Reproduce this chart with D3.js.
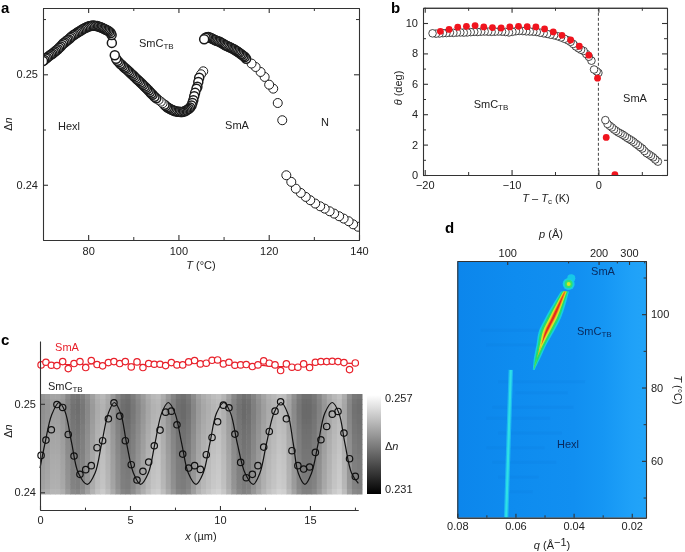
<!DOCTYPE html>
<html>
<head>
<meta charset="utf-8">
<style type="text/css">
  html, body { margin: 0; padding: 0; background: #fff; }
  svg { display: block; filter: blur(0.3px); }
  text { font-family: "Liberation Sans", Arial, sans-serif; font-size: 11px; fill: #222; }
  .letter { font-size: 15px; font-weight: bold; fill: #000; }
</style>
</head>
<body>
<script src="https://d3js.org/d3.v7.min.js"></script>
<script type="text/javascript">
  // panel a: birefringence vs temperature, one pair of arrays per phase
  const hexlT = [70.0,70.3,70.6,70.9,71.2,71.5,71.8,72.1,72.4,72.7,73.0,73.3,73.6,73.9,74.2,74.5,74.8,75.1,75.4,75.7,76.0,76.3,76.6,76.9,77.2,77.5,77.8,78.1,78.4,78.7,79.0,79.3,79.6,79.9,80.2,80.5,80.8,81.1,81.4,81.7,82.0,82.3,82.6,82.9,83.2,83.5,83.8,84.1,84.4,84.7,85.0,85.2,85.25];
  const hexlDn = [.25120,.25130,.25142,.25150,.25162,.25170,.25180,.25186,.25198,.25206,.25218,.25226,.25240,.25252,.25266,.25278,.25288,.25298,.25308,.25316,.25328,.25340,.25350,.25358,.25366,.25374,.25382,.25390,.25396,.25406,.25412,.25418,.25424,.25430,.25434,.25437,.25440,.25441,.25440,.25438,.25436,.25432,.25428,.25424,.25418,.25412,.25406,.25400,.25394,.25386,.25374,.25355,.25284];
  const smctbT = [85.9,86.2,86.5,86.8,87.1,87.4,87.7,88.0,88.3,88.6,88.9,89.2,89.5,89.8,90.1,90.4,90.7,91.0,91.3,91.6,91.9,92.2,92.5,92.8,93.1,93.4,93.7,94.0,94.3,94.7,95.1,95.6,96.1,96.5,96.9,97.2,97.5,97.8,98.1,98.4,98.7,99.0,99.3,99.6,99.9,100.2,100.5,100.8,101.1,101.4,101.7,102.0,102.3,102.6,102.9,103.1,103.3,103.5,103.7,104.0,104.2,104.4,104.6,105.0,105.5];
  const smctbDn = [.25172,.25140,.25122,.25110,.25096,.25086,.25074,.25062,.25052,.25042,.25030,.25018,.25006,.24996,.24984,.24972,.24960,.24948,.24938,.24926,.24914,.24902,.24890,.24878,.24866,.24854,.24840,.24826,.24814,.24796,.24782,.24768,.24752,.24738,.24724,.24712,.24702,.24694,.24688,.24680,.24676,.24670,.24666,.24664,.24660,.24660,.24658,.24658,.24662,.24666,.24672,.24680,.24688,.24700,.24718,.24740,.24766,.24802,.24832,.24870,.24888,.24930,.24968,.25000,.25027];
  const smaT = [105.7,106.0,106.3,106.6,106.9,107.2,107.5,107.8,108.1,108.4,108.7,109.0,109.3,109.6,109.9,110.2,110.5,110.8,111.1,111.4,111.7,112.0,112.3,112.6,112.9,113.2,113.5,113.8,114.1,114.4,114.7,115.0,116.2,117.1,118.2,119.1,120.1,121.0,122.0,123.0];
  const smaDn = [.25317,.25330,.25336,.25338,.25334,.25328,.25322,.25316,.25310,.25304,.25300,.25296,.25290,.25282,.25276,.25268,.25260,.25256,.25250,.25244,.25238,.25232,.25226,.25218,.25210,.25202,.25194,.25184,.25176,.25166,.25157,.25140,.25097,.25066,.25021,.24976,.24906,.24870,.24740,.24584];
  const nemT = [123.9,125.0,126.0,127.1,128.2,129.2,130.3,131.4,132.4,133.5,134.5,135.6,136.6,137.7,138.7,139.8];
  const nemDn = [.24086,.24026,.23965,.23926,.23890,.23860,.23830,.23805,.23784,.23760,.23739,.23715,.23694,.23670,.23642,.23620];

  // panel b: tilt angle, open circles and red points
  const tiltX = [-19.1,-18.7,-18.3,-17.9,-17.5,-17.1,-16.7,-16.3,-15.9,-15.5,-15.1,-14.7,-14.3,-13.9,-13.5,-13.1,-12.7,-12.3,-11.9,-11.5,-11.1,-10.7,-10.3,-9.9,-9.5,-9.1,-8.7,-8.3,-7.9,-7.5,-7.1,-6.7,-6.3,-5.9,-5.5,-5.1,-4.7,-4.3,-3.9,-3.5,-3.2,-2.9,-2.6,-2.3,-2.0,-1.7,-1.4,-1.1,-0.8,-0.5,-0.2,0.0,0.8,1.05,1.3,1.55,1.8,2.05,2.3,2.55,2.8,3.05,3.3,3.55,3.8,4.05,4.3,4.55,4.8,5.05,5.3,5.55,5.8,6.05,6.3,6.55,6.85];
  const tiltY = [9.32,9.30,9.31,9.33,9.34,9.36,9.35,9.37,9.38,9.37,9.38,9.40,9.42,9.41,9.43,9.44,9.43,9.42,9.43,9.44,9.43,9.41,9.38,9.42,9.46,9.48,9.47,9.45,9.44,9.43,9.41,9.36,9.32,9.28,9.23,9.19,9.13,9.05,8.96,8.86,8.76,8.62,8.46,8.34,8.24,8.16,7.96,7.78,7.52,6.94,6.82,6.72,3.61,3.36,3.24,3.13,3.00,2.90,2.80,2.73,2.65,2.55,2.45,2.36,2.28,2.18,2.06,1.96,1.84,1.74,1.58,1.44,1.36,1.26,1.16,1.02,0.88];
  const redX = [-18.2,-17.2,-16.2,-15.2,-14.2,-13.2,-12.2,-11.2,-10.2,-9.2,-8.2,-7.2,-6.2,-5.2,-4.2,-3.2,-2.2,-1.1,-0.1,0.9,1.9];
  const redY = [9.45,9.58,9.72,9.78,9.83,9.74,9.70,9.67,9.74,9.78,9.76,9.74,9.61,9.41,9.19,8.88,8.47,7.88,6.37,2.47,0.02];

  // panel c: line scans and the grey map behind them
  const scanX = [.06,.33,.63,.94,1.26,1.57,1.89,2.22,2.54,2.85,3.17,3.48,3.80,4.11,4.43,4.74,5.07,5.39,5.72,6.04,6.35,6.67,6.98,7.30,7.61,7.93,8.26,8.59,8.91,9.24,9.56,9.87,10.19,10.50,10.83,11.15,11.46,11.80,12.11,12.43,12.74,13.06,13.37,13.69,14.00,14.33,14.65,14.98,15.30,15.61,15.93,16.24,16.56,16.89,17.20,17.52];
  const smaScan = [.2544,.2547,.25436,.25432,.25477,.25398,.25455,.25477,.2541,.25489,.25444,.25429,.25466,.25477,.25455,.25477,.25417,.25474,.2541,.25455,.25447,.25447,.25432,.25466,.2544,.2544,.25474,.25489,.25451,.25459,.25492,.25496,.25451,.2547,.25436,.2544,.25444,.25421,.2544,.25485,.25459,.2544,.25376,.25451,.25414,.25414,.25451,.2541,.2547,.25477,.25477,.25481,.25477,.25466,.25387,.25462];
  const smctbScan = [.24417,.2459,.24707,.24992,.24959,.24654,.2441,.24203,.24256,.24301,.24504,.24583,.24831,.25011,.24861,.24583,.24312,.24139,.24237,.24342,.24526,.24703,.24906,.24917,.24763,.24432,.24274,.24301,.24259,.24425,.2462,.24797,.24985,.24955,.24658,.24338,.24165,.24203,.24301,.24511,.24688,.24917,.25023,.24831,.2447,.24301,.24263,.24286,.24451,.24594,.24744,.24883,.24914,.24669,.2438,.2418];
  const smaFitX = [0,2,4,6,8,10,12,13.3,15,17,17.7];
  const smaFitDn = [.25445,.25445,.25455,.25445,.2545,.2547,.2544,.2542,.2544,.2546,.2545];
  const fitX = [0,.28,.65,1.06,1.39,1.76,2.13,2.63,3.06,3.43,3.80,4.13,4.48,4.81,5.19,5.59,6.02,6.39,6.76,7.13,7.50,7.87,8.24,8.67,9.07,9.44,9.81,10.22,10.59,10.96,11.39,11.85,12.22,12.59,13.0,13.39,13.76,14.07,14.35,14.72,15.09,15.46,15.83,16.24,16.61,16.94,17.31,17.69];
  const fitDn = [.24274,.24556,.24876,.25015,.24914,.24556,.24218,.2409,.24218,.24556,.24895,.25015,.24895,.24556,.24218,.2409,.24218,.24556,.24895,.25015,.24895,.24556,.24218,.2409,.24218,.24556,.24895,.25015,.24895,.24556,.24218,.2409,.24218,.24556,.24895,.25015,.24895,.24556,.24218,.2409,.24218,.24556,.24895,.25015,.24895,.24556,.24218,.241];
  const heatCols = [.2467,.2473,.2481,.2481,.2473,.2453,.2436,.2432,.2441,.2459,.2477,.2494,.2502,.2489,.2469,.2449,.2432,.2428,.2441,.2457,.2473,.2489,.2502,.2506,.2489,.2469,.2449,.2432,.2428,.2436,.2457,.2477,.2490,.2498,.2506,.2510,.2498,.2477,.2453,.2436,.2428,.2432,.2449,.2465,.2481,.2494,.2502,.2510,.2506,.2485,.2461,.2440,.2428,.2428,.2436,.2453,.2473,.2489,.2502,.2510,.2489,.2457,.2436,.2432];
  const heatRows = [-.0004,-.0008,-.0010,-.0010,-.0009,-.0008,-.0006,-.0005,-.0003,-.0002,-.0001,0,.0002,.0003,.0004,.0005,.0006,.0007,.0008,.0014];

  // panel d: SAXS map, background level and the two reflections
  const bgQ = [.08,.06,.04,.03,.02,.0151];
  const bgColor = ["#0c86ec","#0e8cef","#118ff1","#1596f4","#1fa1f8","#22a4f8"];
  const faintT = [82,79,75,72,68,64,60,56,52,96,92];
  const faintQ0 = [.066,.06,.068,.07,.066,.07,.068,.066,.062,.072,.07];
  const faintQ1 = [.036,.042,.04,.048,.044,.05,.046,.052,.054,.052,.05];
  const hexlLineQ = [.0632,.0616];
  const hexlLineT = [44.5,84.8];
  const streakT = [84.8,88.0,91.6,95.3,98.9,102.5,106.2];
  const streakQ = [.05371,.05257,.05109,.04937,.04709,.04503,.04297];
  const streakColors = ["#15cfe0","#25dc6a","#d8e22a","#f08a1e","#e52a1c"];
  const streakWidths = [
    [.0003,.0011,.0017,.0026,.0027,.0022,.0014],
    [.0000,.0006,.0012,.0020,.0021,.0016,.0010],
    [.0000,.0000,.0005,.0012,.0013,.0010,.0006],
    [.0000,.0000,.0000,.0006,.0007,.0006,.0003],
    [.0000,.0000,.0000,.0003,.0004,.0003,.0000]
  ];
  const blobQ = [.0408,.0417,.0417,.0417];
  const blobT = [109.8,108.2,108.2,108.2];
  const blobR = [4,6,4,2];
  const blobColors = ["#18c8e8","#18cfe0","#30e070","#d8e22a"];

  const svg = d3.select('body').append('svg')
      .attr('width', 685)
      .attr('height', 552);

  const defs = svg.append('defs');
  defs.append('filter').attr('id', 'soft')
      .append('feGaussianBlur').attr('stdDeviation', 0.7);
  defs.append('filter').attr('id', 'softer')
      .append('feGaussianBlur').attr('stdDeviation', 0.35);

  function clip(id, x, y, w, h) {
    defs.append('clipPath').attr('id', id).append('rect')
        .attr('x', x).attr('y', y).attr('width', w).attr('height', h);
  }

  // text made of [string, style] runs, style is i (italic) or s (subscript)
  function label(x, y, runs, opts) {
    opts = opts || {};
    const t = svg.append('text')
        .attr('x', x).attr('y', y)
        .attr('text-anchor', opts.anchor || 'middle')
        .attr('dominant-baseline', 'middle');
    if (opts.rotate) t.attr('transform', 'rotate(' + opts.rotate + ',' + x + ',' + y + ')');
    if (opts.fill) t.style('fill', opts.fill);
    runs.forEach(function(r) {
      const s = t.append('tspan').text(r[0]);
      if (opts.fill) s.style('fill', opts.fill);
      if (r[1] === 'i') s.style('font-style', 'italic');
      if (r[1] === 's') s.style('font-size', '8px').attr('dy', 3);
      if (r[1] === 'u') s.attr('dy', -3);
      if (r[2]) s.attr('dy', r[2]);
    });
    return t;
  }

  // inward ticks: long on the major values, short on the minor ones
  function axis(maker, scale, translate, major, minor, labels, len, pad) {
    if (minor) {
      svg.append('g').attr('transform', 'translate(' + translate + ')')
          .call(maker(scale).tickValues(minor).tickSize(-(len || 5) * 0.6).tickSizeOuter(0).tickFormat(''))
          .selectAll('.domain, line').attr('stroke', '#333');
    }
    const g = svg.append('g').attr('transform', 'translate(' + translate + ')')
        .call(maker(scale).tickValues(major).tickSize(-(len || 5)).tickSizeOuter(0).tickPadding(pad || 6)
            .tickFormat(function(d, i) { return labels ? labels[i] : ''; }));
    g.attr('font-family', null).attr('font-size', null);
    g.selectAll('.domain, line').attr('stroke', '#333').attr('stroke-width', 1.1);
    return g;
  }

  function openCircles(g, xs, ys, xScale, yScale, r, sw, denseGap, denseSw) {
    const pts = xs.map(function(d, i) {
      const gap = Math.min(i > 0 ? d - xs[i - 1] : 99, i < xs.length - 1 ? xs[i + 1] - d : 99);
      return [d, ys[i], gap < denseGap ? denseSw : sw];
    }).sort(function(p, q) { return q[0] - p[0]; }); // cooling run, low T ends up on top
    g.selectAll(null).data(pts).enter().append('circle')
        .attr('cx', function(d) { return xScale(d[0]); })
        .attr('cy', function(d) { return yScale(d[1]); })
        .attr('r', r)
        .attr('fill', 'white')
        .attr('stroke', '#1a1a1a')
        .attr('stroke-width', function(d) { return d[2]; });
  }

  // ---- a ----
  const xA = d3.scaleLinear().domain([70, 140]).range([43, 359]);
  const yA = d3.scaleLinear().domain([.235, .256]).range([240, 8]);
  clip('clipA', 43, 8, 316, 232);
  const plotA = svg.append('g').attr('clip-path', 'url(#clipA)');
  openCircles(plotA, nemT, nemDn, xA, yA, 4.5, 1, 0.4, 1.5);
  openCircles(plotA, smaT, smaDn, xA, yA, 4.5, 1, 0.4, 1.5);
  openCircles(plotA, smctbT, smctbDn, xA, yA, 4.5, 1, 0.4, 1.5);
  openCircles(plotA, hexlT, hexlDn, xA, yA, 4.5, 1, 0.4, 1.5);
  axis(d3.axisBottom, xA, '0,240', [80, 100, 120, 140], [70, 90, 110, 130], ['80', '100', '120', '140'], 5, 7);
  axis(d3.axisTop, xA, '0,8', [80, 100, 120], [70, 90, 110, 130], null);
  axis(d3.axisLeft, yA, '43,0', [.25, .24], [.255, .245], ['0.25', '0.24'], 5, 5);
  axis(d3.axisRight, yA, '359,0', [.25, .24], [.255, .245], null);
  label(69, 127, [['Hexl']]);
  label(139, 44, [['SmC'], ['TB', 's']], { anchor: 'start' });
  label(237, 126, [['SmA']]);
  label(325, 123, [['N']]);
  label(201, 266, [['T', 'i'], [' (°C)']]);
  label(9, 124, [['Δ'], ['n', 'i']], { rotate: -90 });
  label(1, 9, [['a']], { anchor: 'start' }).attr('class', 'letter');

  // ---- b ----
  const xB = d3.scaleLinear().domain([-20.2, 7.9]).range([423, 667]);
  const yB = d3.scaleLinear().domain([0, 11]).range([175, 7.8]);
  clip('clipB', 423, 7.8, 244, 167.2);
  const plotB = svg.append('g').attr('clip-path', 'url(#clipB)');
  plotB.append('line')
      .attr('x1', xB(0)).attr('x2', xB(0))
      .attr('y1', yB(11)).attr('y2', yB(0))
      .attr('stroke', '#444').attr('stroke-width', 1).attr('stroke-dasharray', '3,2');
  openCircles(plotB, tiltX, tiltY, xB, yB, 3.8, 0.8, 0, 0.8);
  plotB.selectAll(null).data(redX).enter().append('circle')
      .attr('cx', function(d) { return xB(d); })
      .attr('cy', function(d, i) { return yB(redY[i]); })
      .attr('r', 3.4)
      .attr('fill', '#f0141e');
  axis(d3.axisBottom, xB, '0,175', [-20, -10, 0], [-15, -5, 5], ['−20', '−10', '0'], 5, 6);
  axis(d3.axisTop, xB, '0,7.8', [-20, -10, 0], [-15, -5, 5], null);
  axis(d3.axisLeft, yB, '423,0', [0, 2, 4, 6, 8, 10], [1, 3, 5, 7, 9], ['0', '2', '4', '6', '8', '10'], 5, 5);
  axis(d3.axisRight, yB, '667,0', [0, 2, 4, 6, 8, 10], [1, 3, 5, 7, 9], null);
  label(491, 105, [['SmC'], ['TB', 's']]);
  label(635, 99, [['SmA']]);
  label(546, 199, [['T', 'i'], [' – '], ['T', 'i'], ['c', 's'], [' (K)', null, -3]]);
  label(399, 88, [['θ', 'i'], [' (deg)']], { rotate: -90 });
  label(391, 9, [['b']], { anchor: 'start' }).attr('class', 'letter');

  // ---- c ----
  const xC = d3.scaleLinear().domain([0, 17.67]).range([40, 358]);
  const yC = d3.scaleLinear().domain([.238, .2571]).range([510, 341]);
  const grey = d3.scaleLinear().domain([.231, .257]).range(['#000', '#fff']);
  const heatX = d3.scaleBand().domain(d3.range(heatCols.length)).range([40, 362]);
  const heatY = d3.scaleBand().domain(d3.range(heatRows.length)).range([394, 494]);
  const heat = svg.append('g').attr('filter', 'url(#softer)');
  heatCols.forEach(function(v, i) {
    heat.selectAll(null).data(heatRows).enter().append('rect')
        .attr('x', heatX(i))
        .attr('y', function(d, j) { return heatY(j); })
        .attr('width', heatX.bandwidth() + 0.5)
        .attr('height', heatY.bandwidth() + 0.5)
        .attr('fill', function(d) { return grey(v + d); });
  });
  const smooth = d3.line().curve(d3.curveCatmullRom);
  svg.append('path')
      .attr('d', smooth(fitX.map(function(d, i) { return [xC(d), yC(fitDn[i])]; })))
      .attr('fill', 'none').attr('stroke', '#111').attr('stroke-width', 1.2);
  svg.selectAll(null).data(scanX).enter().append('circle')
      .attr('cx', function(d) { return xC(d); })
      .attr('cy', function(d, i) { return yC(smctbScan[i]); })
      .attr('r', 3.2)
      .attr('fill', 'none').attr('stroke', '#111').attr('stroke-width', 1.2);
  svg.append('path')
      .attr('d', smooth(smaFitX.map(function(d, i) { return [xC(d), yC(smaFitDn[i])]; })))
      .attr('fill', 'none').attr('stroke', '#e8202a').attr('stroke-width', 1.1);
  svg.selectAll(null).data(scanX).enter().append('circle')
      .attr('cx', function(d) { return xC(d); })
      .attr('cy', function(d, i) { return yC(smaScan[i]); })
      .attr('r', 3.2)
      .attr('fill', 'white').attr('stroke', '#e8202a').attr('stroke-width', 1.2);
  axis(d3.axisBottom, xC, '0,510', [0, 5, 10, 15], [2.5, 7.5, 12.5, 17.5], ['0', '5', '10', '15'], 4, 6);
  axis(d3.axisLeft, yC, '40,0', [.25, .24], null, ['0.25', '0.24'], 5, 4);
  label(67, 348, [['SmA']], { fill: '#e8202a' });
  label(48, 387, [['SmC'], ['TB', 's']], { anchor: 'start' });
  label(201, 537, [['x', 'i'], [' (µm)']]);
  label(9, 431, [['Δ'], ['n', 'i']], { rotate: -90 });
  label(1, 341, [['c']], { anchor: 'start' }).attr('class', 'letter');

  // colour bar, same grey scale as the map
  const barGrad = defs.append('linearGradient').attr('id', 'barGrad')
      .attr('x1', 0).attr('x2', 0).attr('y1', 0).attr('y2', 1);
  barGrad.append('stop').attr('offset', 0).attr('stop-color', grey(.257));
  barGrad.append('stop').attr('offset', 1).attr('stop-color', grey(.231));
  svg.append('rect').attr('x', 367).attr('y', 395).attr('width', 14).attr('height', 99)
      .attr('fill', 'url(#barGrad)');
  label(385, 399, [['0.257']], { anchor: 'start' });
  label(385, 447, [['Δ'], ['n', 'i']], { anchor: 'start' });
  label(385, 490, [['0.231']], { anchor: 'start' });

  // ---- d ----
  const xD = d3.scaleLinear().domain([.08, .0151]).range([457.3, 646]);
  const yD = d3.scaleLinear().domain([44.5, 114.5]).range([517.7, 261]);
  const bgGrad = defs.append('linearGradient').attr('id', 'bgGrad')
      .attr('gradientUnits', 'userSpaceOnUse')
      .attr('x1', xD(.08)).attr('x2', xD(.0151)).attr('y1', 0).attr('y2', 0);
  bgQ.forEach(function(q, i) {
    bgGrad.append('stop')
        .attr('offset', (xD(q) - xD(.08)) / (xD(.0151) - xD(.08)))
        .attr('stop-color', bgColor[i]);
  });
  clip('clipD', 457.3, 261, 188.7, 256.7);
  svg.append('rect')
      .attr('x', xD(.08)).attr('y', yD(114.5))
      .attr('width', xD(.0151) - xD(.08)).attr('height', yD(44.5) - yD(114.5))
      .attr('fill', 'url(#bgGrad)');
  const plotD = svg.append('g').attr('clip-path', 'url(#clipD)').append('g').attr('filter', 'url(#soft)');
  plotD.selectAll(null).data(faintT).enter().append('rect')
      .attr('x', function(d, i) { return xD(faintQ0[i]); })
      .attr('y', function(d) { return yD(d); })
      .attr('width', function(d, i) { return xD(faintQ1[i]) - xD(faintQ0[i]); })
      .attr('height', 3)
      .attr('fill', '#0a62c8').attr('opacity', 0.09);
  const lineD = d3.line()
      .x(function(d) { return xD(d[0]); })
      .y(function(d) { return yD(d[1]); });
  plotD.append('path')
      .attr('d', lineD(hexlLineQ.map(function(d, i) { return [d, hexlLineT[i]]; })))
      .attr('stroke', '#1cb8f0').attr('stroke-width', 4.5).attr('fill', 'none');
  plotD.append('path')
      .attr('d', lineD(hexlLineQ.map(function(d, i) { return [d, hexlLineT[i]]; })))
      .attr('stroke', '#2de0e6').attr('stroke-width', 2.2).attr('fill', 'none');
  blobQ.forEach(function(q, i) {
    plotD.append('circle')
        .attr('cx', xD(q)).attr('cy', yD(blobT[i])).attr('r', blobR[i])
        .attr('fill', blobColors[i]);
  });
  streakColors.forEach(function(c, k) {
    const band = d3.area()
        .curve(d3.curveCatmullRom)
        .y(function(d) { return yD(d); })
        .x0(function(d, i) { return xD(streakQ[i] + streakWidths[k][i]); })
        .x1(function(d, i) { return xD(streakQ[i] - streakWidths[k][i]); });
    plotD.append('path').attr('d', band(streakT)).attr('fill', c);
  });
  const pMajor = [100, 200, 300];
  const pMinor = [150, 250, 400];
  axis(d3.axisBottom, xD, '0,517.7', [.08, .06, .04, .02], [.07, .05, .03], ['0.08', '0.06', '0.04', '0.02'], 4, 5);
  axis(d3.axisTop, xD, '0,261', pMajor.map(function(p) { return 2 * Math.PI / p; }),
      pMinor.map(function(p) { return 2 * Math.PI / p; }), ['100', '200', '300'], 4, 4);
  axis(d3.axisRight, yD, '646,0', [100, 80, 60], [110, 90, 70, 50], ['100', '80', '60'], 4, 5);
  axis(d3.axisLeft, yD, '457.3,0', [], null, null);
  label(603, 272, [['SmA']], { fill: '#0a2a5e' });
  label(577, 332, [['SmC'], ['TB', 's']], { anchor: 'start', fill: '#0a2a5e' });
  label(568, 445, [['Hexl']], { fill: '#0a2a5e' });
  label(551, 235, [['p', 'i'], [' (Å)']]);
  label(552, 546, [['q', 'i'], [' (Å'], ['−1', 'u'], [')', null, 3]]);
  label(677, 390, [['T', 'i'], [' (°C)']], { rotate: 90 });
  label(445, 229, [['d']], { anchor: 'start' }).attr('class', 'letter');
</script>
</body>
</html>
